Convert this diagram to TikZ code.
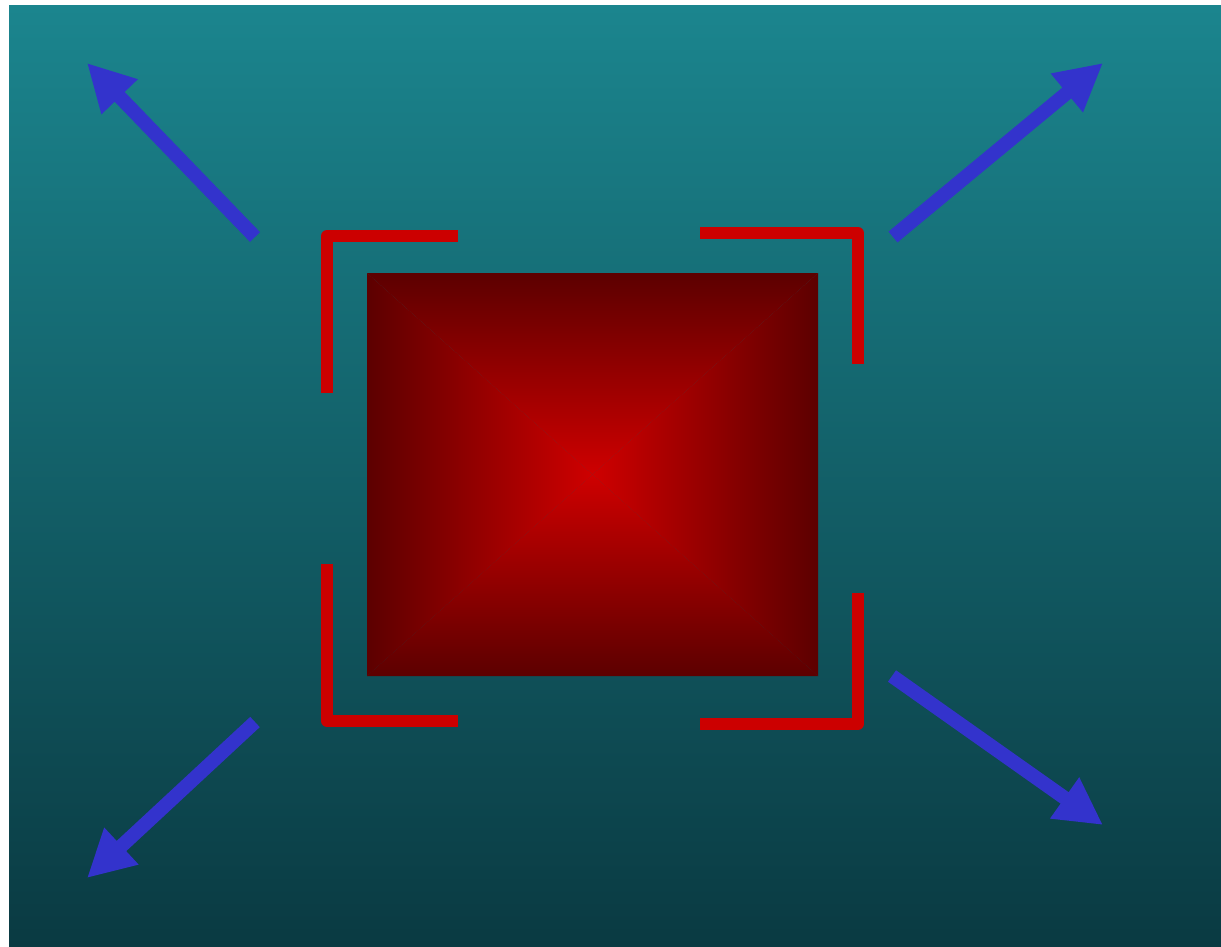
\documentclass[tikz,border=0pt]{standalone}
\usepackage{xcolor}
\usepackage{tikz}
\usetikzlibrary{arrows.meta}
\definecolor{fondoarriba}{RGB}{27,133,142}
\definecolor{fondoabajo}{RGB}{10,58,66}
\definecolor{rojoborde}{RGB}{92,0,0}
\definecolor{rojocentro}{RGB}{206,0,0}
\definecolor{rojomarco}{RGB}{204,0,0}
\definecolor{azulflecha}{RGB}{51,51,204}

\begin{document}
\begin{tikzpicture}[
  x=1pt, y=-1pt,
  marco/.style={draw=rojomarco, line width=12pt, line join=round, line cap=butt},
  flechaazul/.style={draw=azulflecha, line width=14pt, line cap=butt,
    -{Triangle[length=47pt, width=47pt]}}
]
\useasboundingbox[fill=white] (0,0) rectangle (1221,947);
% fondo
\shade[top color=fondoarriba, bottom color=fondoabajo] (9,6) rectangle (1221,947);
% cuadrado en piramide
\coordinate (c) at (592.5,474.5);
\coordinate (nw) at (367,273);
\coordinate (ne) at (818,273);
\coordinate (se) at (818,676);
\coordinate (sw) at (367,676);
\shade[top color=rojoborde, bottom color=rojocentro] (nw) -- (ne) -- (c) -- cycle;
\shade[top color=rojocentro, bottom color=rojoborde] (sw) -- (se) -- (c) -- cycle;
\shade[left color=rojoborde, right color=rojocentro] (nw) -- (sw) -- (c) -- cycle;
\shade[left color=rojocentro, right color=rojoborde] (ne) -- (se) -- (c) -- cycle;
% esquinas
\draw[marco] (327,393) -- (327,236) -- (458,236);
\draw[marco] (700,233) -- (858,233) -- (858,364);
\draw[marco] (327,564) -- (327,721) -- (458,721);
\draw[marco] (700,723.5) -- (858,723.5) -- (858,593);
% flechas
\coordinate (a1) at (255,237);  \coordinate (b1) at (87,63);
\coordinate (a2) at (893,237);  \coordinate (b2) at (1103,63);
\coordinate (a3) at (255,722);  \coordinate (b3) at (87,878);
\coordinate (a4) at (892,676);  \coordinate (b4) at (1103,825);
\draw[flechaazul] (a1) -- (b1);
\draw[flechaazul] (a2) -- (b2);
\draw[flechaazul] (a3) -- (b3);
\draw[flechaazul] (a4) -- (b4);
\end{tikzpicture}
\end{document}
